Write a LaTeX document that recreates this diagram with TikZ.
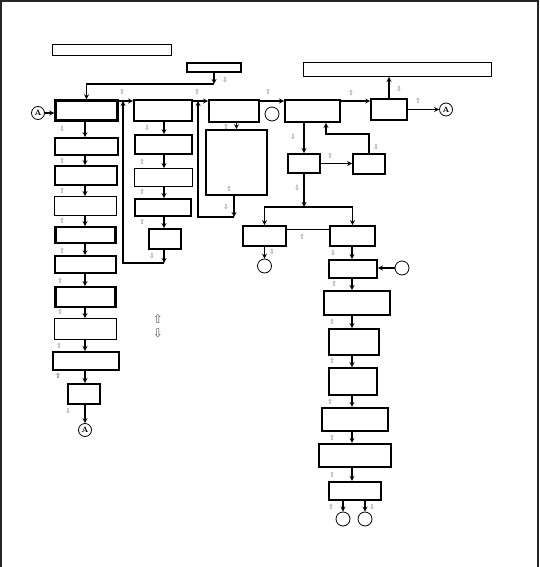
\documentclass[tikz,border=0pt]{standalone}
\usepackage{fontspec}
\newfontfamily\arrowfont{DejaVu Sans}
\usetikzlibrary{calc,arrows}

\tikzset{
    thinbox/.style = {draw, line width=0.9pt, inner sep=0pt},
    midbox/.style  = {draw, line width=1.6pt, inner sep=0pt},
    boldbox/.style = {draw, line width=2.4pt, inner sep=0pt},
    sz/.style 2 args = {minimum width=#1pt, minimum height=#2pt},
    conn/.style = {circle, draw, line width=0.8pt, minimum size=14pt, inner sep=0pt, font=\bfseries\footnotesize},
    link/.style = {->, line width=1.2pt},
    hint/.style = {text=black!55, inner sep=0pt, font=\arrowfont\fontsize{7}{7}\selectfont},
    legend/.style = {text=black!65, inner sep=0pt, font=\arrowfont\fontsize{12}{12}\selectfont},
}

\begin{document}
\begin{tikzpicture}[x=1pt, y=-1pt, >=stealth]
    \useasboundingbox (0,0) rectangle (539,567);
    \draw[line width=1.2pt, black!85] (1,567) -- (1,1) -- (538,1) -- (538,567);

    % top row
    \node[thinbox, sz={119}{11}] (title) at (112,50) {};
    \node[midbox, sz={54}{9}] (start) at (214,67.5) {};
    \node[thinbox, sz={188}{14}] (note) at (397.5,69.5) {};

    % column 1
    \node[boldbox, sz={62}{20}] (c1a) at (86.5,110.5) {};
    \node[midbox, sz={63}{17}] (c1b) at (86.5,146.5) {};
    \node[midbox, sz={62}{19}] (c1c) at (86,175.5) {};
    \node[thinbox, sz={62}{19}] (c1d) at (85.5,206) {};
    \node[boldbox, sz={60}{15.5}] (c1e) at (85.5,235) {};
    \node[midbox, sz={61}{17}] (c1f) at (85.5,264.5) {};
    \node[boldbox, sz={60}{19.5}] (c1g) at (85.5,297) {};
    \node[thinbox, sz={62}{21}] (c1h) at (85.5,329) {};
    \node[boldbox, sz={65.5}{17.5}] (c1i) at (86,361) {};
    \node[boldbox, sz={31.5}{19.5}] (c1j) at (84,394) {};

    % column 2
    \node[boldbox, sz={57.5}{20.5}] (c2a) at (163,110.5) {};
    \node[midbox, sz={57}{19}] (c2b) at (163.5,144.5) {};
    \node[thinbox, sz={58}{18}] (c2c) at (163.5,177.5) {};
    \node[boldbox, sz={55.5}{16.5}] (c2d) at (163,207.5) {};
    \node[boldbox, sz={31.5}{19.5}] (c2e) at (165,239) {};

    % column 3
    \node[boldbox, sz={49.5}{21.5}] (c3a) at (234,111) {};
    \node[midbox, sz={61}{65}] (c3b) at (236.5,162.5) {};

    % column 4
    \node[boldbox, sz={54.5}{21.5}] (c4a) at (312.5,111) {};
    \node[midbox, sz={36}{21}] (c5) at (389,109.5) {};
    \node[boldbox, sz={31.5}{18.5}] (c4b) at (304,163.5) {};
    \node[boldbox, sz={31.5}{19.5}] (c4c) at (369,164) {};
    \node[boldbox, sz={42.5}{19.5}] (c4d) at (264.5,236) {};
    \node[boldbox, sz={44.5}{19.5}] (c4e) at (352.5,236) {};

    % right column
    \node[boldbox, sz={47.5}{17.5}] (r1) at (353,269) {};
    \node[boldbox, sz={65.5}{23.5}] (r2) at (357,303) {};
    \node[boldbox, sz={49.5}{25.5}] (r3) at (354,342) {};
    \node[boldbox, sz={47.5}{26.5}] (r4) at (353,381.5) {};
    \node[midbox, sz={66.5}{23.5}] (r5) at (355,419.5) {};
    \node[midbox, sz={72.5}{23.5}] (r6) at (355,455.5) {};
    \node[midbox, sz={52.5}{18.5}] (r7) at (355,491) {};

    % connectors
    \node[conn, minimum size=13pt] (a1) at (38,113) {A};
    \node[conn, minimum size=13pt] (a2) at (446,109.5) {A};
    \node[conn, minimum size=13pt] (a3) at (85,430) {A};
    \node[conn] (e1) at (272,114) {};
    \node[conn] (e2) at (264.5,266) {};
    \node[conn] (e3) at (402,268) {};
    \node[conn] (e4) at (343,519) {};
    \node[conn] (e5) at (365,519) {};

    \coordinate (bus) at (0,101);
    \coordinate (s1) at (85,0);
    \coordinate (s2) at (164,0);
    \coordinate (s5) at (352,0);
    \coordinate (j0) at (214,84);
    \coordinate (j2) at (164,263);
    \coordinate (k2) at (123,101);
    \coordinate (j3) at (234,217);
    \coordinate (k3) at (198,101);
    \coordinate (j4) at (304,207);
    \coordinate (m4) at (326,134);

    \draw[link] (start) -- (j0);
    \draw[link] (j0) -| (c1a);
    \draw[link] (a1) -- (a1 -| c1a.west);
    \draw[link] (c1a.east |- bus) -- (c2a.west |- bus);
    \draw[link] (c2a.east |- bus) -- (c3a.west |- bus);
    \draw[link] (c3a.east |- bus) -- (c4a.west |- bus);
    \draw[link] (c4a.east |- bus) -- (c5.west |- bus);
    \draw[link] (c5.north) -- (c5.north |- note.south);
    \draw[link] (c5) -- (a2);

    \foreach \a/\b in {c1a/c1b, c1b/c1c, c1c/c1d, c1d/c1e, c1e/c1f, c1f/c1g, c1g/c1h, c1h/c1i, c1i/c1j}
        \draw[link] (\a.south -| s1) -- (\b.north -| s1);
    \draw[link] (c1j.south -| s1) -- (a3);

    \foreach \a/\b in {c2a/c2b, c2b/c2c, c2c/c2d, c2d/c2e}
        \draw[link] (\a.south -| s2) -- (\b.north -| s2);
    \draw[link] (c2e.south -| s2) -- (j2);
    \draw[link] (j2) -| (k2);

    \draw[link] (c3a.south -| c3b) -- (c3b.north);
    \draw[link] (c3b.south -| j3) -- (j3);
    \draw[link] (j3) -| (k3);

    \draw[link] (c4a.south -| c4b) -- (c4b.north);
    \draw[link] (c4b.east) -- (c4b.east -| c4c.west);
    \draw[link] (c4c.north) |- (m4) -- (m4 |- c4a.south);
    \draw[link] (c4b.south -| j4) -- (j4);
    \draw[link] (j4) -| (c4d);
    \draw[link] (j4) -| (c4e);
    \draw[line width=0.6pt] ([yshift=-4pt]c4d.north east) -- ([yshift=-4pt]c4e.north west);
    \draw[link] (c4d) -- (e2);
    \draw[link] (c4e.south -| s5) -- (r1.north -| s5);
    \draw[link] (e3) -- (e3 -| r1.east);

    \foreach \a/\b in {r1/r2, r2/r3, r3/r4, r4/r5, r5/r6, r6/r7}
        \draw[link] (\a.south -| s5) -- (\b.north -| s5);
    \draw[link] (r7.south -| e4) -- (e4);
    \draw[link] (r7.south -| e5) -- (e5);

    % small arrow marks
    \foreach \x/\y [count=\i] in {122/92, 197/92, 268/92, 351/93, 418/101, 62/161, 62/191, 62/221, 62/251,
            60/281, 60/312, 59/346, 142/162, 142/192, 142/222, 226/127, 229/189, 330/156, 302/237,
            334/284, 332/322, 332/361, 330/402, 332/438, 332/475, 331/507}
        \node[hint] (u\i) at (\x,\y) {⇧};
    \node[hint, text=black!80] (u0) at (58,376) {⇧};
    \foreach \x/\y [count=\i] in {225/80, 62/129, 147/128, 152/256, 226/207, 399/89, 293/137, 376/147,
            297/188, 272/252, 333/253, 68/411, 372/507}
        \node[hint] (d\i) at (\x,\y) {⇩};

    % legend
    \node[legend] (lup) at (158,319) {⇧};
    \node[legend] (ldn) at (158,333) {⇩};
\end{tikzpicture}
\end{document}
